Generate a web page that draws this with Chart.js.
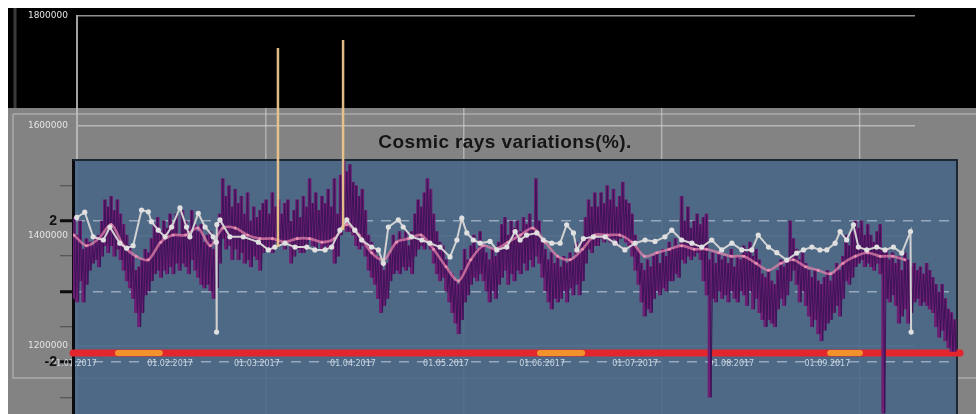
<!DOCTYPE html>
<html><head><meta charset="utf-8">
<script src="https://cdn.jsdelivr.net/npm/chart.js@4/dist/chart.umd.min.js"></script>
<style>
html,body{margin:0;padding:0;background:#fff;}
#wrap{position:relative;width:976px;height:414px;overflow:hidden;}
canvas{position:absolute;left:0;top:0;}
</style></head><body>
<div id="wrap"><canvas id="back" width="976" height="414"></canvas><canvas id="front" width="976" height="418"></canvas></div>
<script>
// ---------- DATA ----------
const TITLE = 'Cosmic rays variations(%).';
const monthDays = [0,31,59,90,120,151,181,212,243];
const monthLabels = ['01.01.2017','01.02.2017','01.03.2017','01.04.2017','01.05.2017','01.06.2017','01.07.2017','01.08.2017','01.09.2017'];
const innerTicks = [-3,-2.5,-2,-1.5,-1,-0.5,0,0.5,1,1.5,2,2.5,3,3.5];
const innerLabeled = [2,-2];
const innerMajor = [-2,0,2];
const outerTicks = [1200000,1400000,1600000,1800000];
const outerGridX = [1,2,3,4];

// daily high / low of the cosmic-ray variation band (%), day 0 = 01.01.2017
const cosmicHigh = [
2.1,1.6,2.0,1.2,1.5,1.4,1.3,1.5,1.6,2.0,
2.6,2.4,2.7,2.3,2.6,2.2,1.9,1.6,1.3,1.0,
0.6,0.7,0.9,1.2,1.1,1.5,1.9,2.1,1.7,2.0,
1.8,2.2,1.9,2.2,1.6,2.3,2.0,1.8,2.3,1.9,
1.7,1.9,1.4,1.6,1.7,1.2,1.5,2.2,3.2,2.7,
3.0,2.4,2.9,2.5,2.7,2.2,2.8,
2.0,2.4,2.1,2.3,2.5,2.6,2.2,2.8,2.4,2.6,
2.2,2.5,2.6,2.0,2.3,2.6,2.1,2.7,2.4,3.2,
2.5,2.8,2.3,2.7,2.5,2.9,2.4,3.2,2.2,3.3,
3.7,3.4,3.6,3.1,3.0,2.7,2.9,2.3,1.6,1.4,
1.2,1.0,0.8,0.6,0.8,1.1,1.6,1.4,1.7,1.5,
1.7,1.3,1.7,2.2,2.6,2.4,
2.8,3.2,2.9,2.2,1.7,1.4,1.3,0.9,0.6,0.5,
0.3,0.2,0.6,1.2,0.9,1.3,1.6,1.2,1.7,1.3,
1.1,0.9,1.2,1.0,1.4,1.9,2.1,1.6,2.0,1.8,
2.0,1.7,2.1,1.9,2.2,1.8,3.2,2.0,1.5,1.2,
0.9,1.1,0.8,1.0,0.7,1.0,0.8,1.1,0.9,1.4,
1.1,1.5,2.1,2.6,2.4,2.8,
2.4,2.8,2.5,3.0,2.6,2.9,2.4,2.7,3.1,2.6,
2.5,2.2,1.6,1.2,0.8,0.6,0.9,0.7,1.0,1.1,
0.8,1.2,1.0,1.4,1.2,1.5,1.3,2.7,2.0,2.4,
1.8,2.0,2.2,1.9,2.1,2.2,0.9,1.1,0.8,1.1,
0.9,1.0,0.8,1.2,0.7,1.0,0.9,1.3,1.1,1.4,
1.0,1.2,0.9,0.5,0.4,0.6,0.3,
0.2,0.6,0.9,0.7,0.9,2.0,1.5,1.2,0.9,1.1,
0.8,0.6,0.4,0.6,0.3,0.2,0.4,0.6,0.3,0.5,
0.8,0.6,1.0,1.6,1.3,1.7,2.0,1.8,2.0,1.6,
1.9,1.6,1.4,1.7,1.9,1.2,1.2,0.9,1.1,0.8,
1.0,0.6,1.1,0.9,0.7,0.8,0.6,0.7,0.5,0.8,
0.6,0.4,0.2,0.0,0.2,-0.2,-0.5,-0.6,-0.8];
const cosmicLow = [
-0.2,-0.3,0.3,-0.3,0.2,0.6,0.8,0.9,0.7,1.0,
1.3,1.1,1.3,1.0,1.2,0.9,0.6,0.3,0.1,-0.2,
-0.6,-1.0,-0.6,-0.1,0.0,0.3,0.5,0.6,0.4,0.6,
0.5,0.7,0.5,0.8,0.6,0.8,0.7,0.5,0.9,0.6,
0.4,0.2,0.1,0.2,0.0,-0.2,0.1,0.8,1.5,1.2,
1.3,0.9,1.2,0.9,1.1,0.8,0.9,
0.7,1.0,0.9,0.6,1.1,1.2,1.2,1.1,1.4,1.3,
1.4,1.2,1.4,0.8,1.0,1.2,1.1,1.1,1.2,1.5,
1.3,1.2,1.4,1.2,1.3,1.2,1.3,0.8,1.0,1.6,
1.8,1.7,1.7,1.6,1.3,1.2,1.3,1.0,0.6,0.4,
0.2,-0.2,-0.6,-0.4,-0.2,0.3,0.5,0.6,0.5,0.7,
0.6,0.7,0.5,1.0,1.2,1.3,
1.2,1.4,1.2,0.8,0.5,0.3,0.4,0.0,-0.3,-0.6,
-0.9,-1.2,-0.8,-0.3,-0.1,0.2,0.4,0.3,0.5,0.3,
0.0,-0.3,0.0,-0.2,0.2,0.4,0.6,0.2,0.5,0.3,
0.6,0.5,0.8,0.6,0.9,0.7,1.0,0.8,0.4,0.0,
-0.3,-0.5,-0.2,-0.3,-0.2,0.0,-0.3,0.1,-0.1,0.2,
-0.1,0.3,0.8,1.2,1.1,1.3,
1.3,1.5,1.4,1.6,1.4,1.5,1.3,1.5,1.6,1.4,
1.3,1.0,0.6,0.2,-0.3,-0.7,-0.5,-0.6,-0.2,0.0,
-0.1,0.1,0.0,0.3,0.3,0.5,0.4,0.9,0.8,1.0,
0.9,1.0,1.1,0.9,0.3,-0.1,-3.0,-0.2,-0.3,0.0,
-0.2,-0.1,-0.3,0.0,-0.2,-0.3,0.0,-0.1,-0.4,0.0,
-0.5,-0.2,-0.6,-0.8,-1.0,-0.8,-0.9,
-1.0,-0.5,-0.2,-0.4,-0.1,0.3,0.6,0.2,-0.3,0.0,
-0.4,-0.7,-1.0,-0.8,-1.2,-1.4,-1.1,-0.9,-0.8,-0.6,
-0.4,-0.7,-0.2,0.3,0.2,0.4,0.7,0.8,0.9,0.7,
0.8,0.7,0.6,0.8,0.5,-3.45,-0.2,-0.3,-0.1,-0.4,
-0.9,-0.7,-0.5,-0.9,-0.6,-0.3,-0.2,-0.4,-0.3,-0.4,
-0.5,-0.6,-1.0,-1.3,-1.1,-1.4,-1.6,-1.7,-1.7];

// smoothed (pink) curve
const smoothDays = [0,4,8,12,16,20,24,28,32,36,40,44,48,52,56,60,64,68,72,76,80,84,88,92,96,100,104,108,112,116,120,124,128,132,136,140,144,148,152,156,160,164,168,172,176,180,184,188,192,196,200,204,208,212,216,220,224,228,232,236,240,244,248,252,256,260,264,268];
const smoothVals = [1.6,1.3,1.5,1.9,1.3,1.0,0.9,1.4,1.6,1.6,1.8,1.3,1.8,1.8,1.6,1.5,1.5,1.4,1.5,1.5,1.4,1.5,1.9,1.6,1.1,0.9,1.4,1.5,1.6,1.2,0.7,0.3,0.9,1.3,1.2,1.4,1.6,1.8,1.4,1.0,0.9,1.2,1.6,1.6,1.6,1.4,1.0,1.1,1.2,1.3,1.2,1.2,1.1,1.0,1.0,0.8,0.6,0.8,0.9,0.7,0.6,0.5,0.8,1.0,1.1,1.0,1.0,0.9];

// light-grey series with markers
const greyDays = [0.9,3.5,6.2,9.5,11.6,14.8,17,19.1,21.8,24,25,27.2,29.4,31.5,34.2,36.3,37.4,40.1,42.3,44.9,45.9,46.0,46.1,47.1,50.3,54.6,59.5,62.7,64.8,68.1,71.3,75.1,77.7,81,83.1,85.8,88,90.6,92.8,96,98.2,99.8,101.4,104.6,106.2,108.9,112.2,114.8,118.1,121.3,123.5,125.1,126.7,128.8,131,134.2,136.4,139.6,142.3,143.9,146,149.3,151.4,154.1,156.8,158.9,161.1,162.2,164.3,167.5,171.3,174.5,177.7,181,184.2,187.4,190.6,192.8,196,199.3,202.5,205.7,208.9,212.2,215.4,218.6,220.7,224,226.7,229.9,233.1,235.3,238,240.6,242.8,245.5,247.1,249.2,251.4,253,255.7,258.9,261.6,264.3,267,269.8,270.0];
const greyVals = [2.1,2.25,1.55,1.46,1.83,1.37,1.23,1.3,2.31,2.26,1.98,1.74,1.55,1.83,2.37,1.83,1.55,2.22,1.83,1.55,1.4,-1.15,1.9,2.03,1.55,1.55,1.4,1.18,1.26,1.37,1.26,1.26,1.18,1.18,1.26,1.74,2.03,1.74,1.46,1.26,1.18,0.8,1.83,2.03,1.83,1.55,1.46,1.37,1.26,0.98,1.46,2.08,1.66,1.46,1.37,1.42,1.18,1.26,1.7,1.46,1.6,1.66,1.46,1.37,1.37,1.89,1.66,1.18,1.5,1.55,1.55,1.37,1.18,1.37,1.46,1.42,1.55,1.74,1.46,1.37,1.26,1.46,1.18,1.37,1.18,1.18,1.6,1.26,1.1,0.89,1.09,1.18,1.26,1.18,1.18,1.37,1.7,1.46,1.89,1.26,1.18,1.26,1.18,1.26,1.09,1.7,-1.15];

// outer (background) counter spikes
const spikeDays = [65.8, 86.8];
const spikeBase = [1380000, 1410909];
const spikeTop = [1741818, 1756364];

// time band bar
const bandLevel = -1.745;
const bandStart = -0.3, bandEnd = 285.8;
const markStart = [14.2, 150.3, 243.9];
const markEnd = [27.7, 163.9, 253.5];

// ---------- BUILD ----------
const zig = [];
cosmicHigh.forEach((h, d) => { zig.push({x: d, y: h}); zig.push({x: d + 0.5, y: cosmicLow[d]}); });
const ranges = cosmicHigh.map((h, d) => ({x: d, y: [cosmicLow[d], h]}));
const smoothPts = smoothDays.map((d, i) => ({x: d, y: smoothVals[i]}));
const greyPts = greyDays.map((d, i) => ({x: d, y: greyVals[i]}));
const spikePts = [];
const spikeRadius = [];
spikeDays.forEach((d, i) => {
  spikePts.push({x: d, y: spikeBase[i]}, {x: d, y: spikeTop[i]}, {x: d + 1, y: null});
  spikeRadius.push(0, 3, 0);
});
const markPts = [];
markStart.forEach((s, i) => { markPts.push({x: s, y: bandLevel}, {x: markEnd[i], y: bandLevel}, {x: markEnd[i] + 1, y: null}); });

const noPad = s => { s.paddingTop = 0; s.paddingBottom = 0; };

const backdrop = {
  id: 'backdrop',
  beforeDraw(chart) {
    const c = chart.ctx;
    c.save();
    c.fillStyle = '#ffffff'; c.fillRect(0, 0, 976, 414);
    c.fillStyle = '#000000'; c.fillRect(8, 8, 968, 100);
    c.fillStyle = '#838383'; c.fillRect(8, 108, 968, 306);
    c.strokeStyle = '#3a3a3a'; c.lineWidth = 3;
    c.beginPath(); c.moveTo(15, 8); c.lineTo(15, 108); c.stroke();
    c.strokeStyle = 'rgba(175,175,175,0.9)'; c.lineWidth = 1.5;
    c.beginPath(); c.moveTo(13, 114); c.lineTo(976, 114); c.moveTo(13, 114); c.lineTo(13, 378); c.lineTo(976, 378); c.stroke();
    c.restore();
  },
  beforeDatasetsDraw(chart) {
    const c = chart.ctx, s = chart.scales.x;
    c.save();
    c.strokeStyle = 'rgba(215,215,215,0.55)'; c.lineWidth = 1.5;
    outerGridX.forEach(v => { const px = s.getPixelForValue(v); c.beginPath(); c.moveTo(px, 108); c.lineTo(px, 414); c.stroke(); });
    c.restore();
  }
};

new Chart(document.getElementById('back'), {
  type: 'line',
  data: {datasets: []},
  options: {
    responsive: false, animation: false,
    layout: {padding: {top: 16, right: 61, bottom: 0, left: 0}},
    plugins: {legend: {display: false}, tooltip: {enabled: false}},
    scales: {
      x: {type: 'linear', min: 0.046, max: 4.28,
          afterFit: s => { s.height = 0; s.paddingLeft = 0; s.paddingRight = 0; },
          ticks: {display: false}, grid: {display: false, drawTicks: false}, border: {display: false}},
      y: {type: 'linear', min: 1076364, max: 1800000,
          afterBuildTicks: s => { s.ticks = outerTicks.map(v => ({value: v})); },
          afterFit: s => { s.width = 77; noPad(s); },
          ticks: {color: '#e4e4e4', font: {family: 'DejaVu Sans', size: 9}, padding: 9, callback: v => String(v)},
          grid: {color: 'rgba(205,205,205,0.7)', lineWidth: 1.5, drawTicks: false},
          border: {color: 'rgba(190,190,190,0.85)', width: 2}}
    }
  },
  plugins: [backdrop]
});

const panel = {
  id: 'panel',
  beforeDraw(chart) {
    const c = chart.ctx, a = chart.chartArea;
    c.save();
    c.fillStyle = 'rgba(70,101,134,0.87)';
    c.fillRect(a.left, a.top, a.right - a.left, a.bottom - a.top);
    c.restore();
  },
  beforeDatasetsDraw(chart) {
    const c = chart.ctx, a = chart.chartArea;
    c.save();
    c.strokeStyle = '#1d2733'; c.lineWidth = 2;
    c.beginPath(); c.moveTo(a.left, a.top); c.lineTo(a.right, a.top); c.lineTo(a.right, a.bottom); c.stroke();
    c.font = 'bold 19px "Liberation Sans", Arial, sans-serif';
    if ('letterSpacing' in c) c.letterSpacing = '0.4px';
    c.fillStyle = '#151515'; c.textAlign = 'center'; c.textBaseline = 'middle';
    c.fillText(TITLE, 505, 143);
    c.restore();
  }
};

new Chart(document.getElementById('front'), {
  type: 'line',
  data: {datasets: [
    {label: 'spikes', yAxisID: 'yOut', data: spikePts, borderColor: 'rgba(236,196,140,0.95)', borderWidth: 2.5,
     pointRadius: spikeRadius, pointBackgroundColor: '#f0c890', pointBorderWidth: 0, spanGaps: false, clip: false, order: 0},
    {label: 'grey', data: greyPts, borderColor: '#d2d2d2', borderWidth: 2, pointRadius: 2.6,
     pointBackgroundColor: '#e0e0e0', pointBorderWidth: 0, tension: 0, order: 1},
    {label: 'smooth', data: smoothPts, borderColor: 'rgba(230,132,172,0.72)', borderWidth: 2.6, pointRadius: 1.5,
     pointBackgroundColor: 'rgba(240,150,185,0.85)', pointBorderWidth: 0, tension: 0.3, order: 2},
    {label: 'cosmic', data: zig, borderColor: '#3a1456', borderWidth: 1, pointRadius: 0, tension: 0, order: 3},
    {label: 'cosmicRange', type: 'bar', data: ranges, backgroundColor: '#6e1f74', borderWidth: 0,
     barPercentage: 1, categoryPercentage: 1, grouped: false, order: 4},
    {label: 'marks', data: markPts, borderColor: '#f2922c', borderWidth: 6, borderCapStyle: 'round', pointRadius: 0,
     spanGaps: false, clip: false, order: 5},
    {label: 'band', data: [{x: bandStart, y: bandLevel}, {x: bandEnd, y: bandLevel}], borderColor: '#e3262d', borderWidth: 7,
     borderCapStyle: 'round', pointRadius: 0, clip: false, order: 6}
  ]},
  options: {
    responsive: false, animation: false,
    layout: {padding: {top: 160, right: 19, bottom: 0, left: 0}},
    plugins: {legend: {display: false}, tooltip: {enabled: false}},
    scales: {
      x: {type: 'linear', min: -0.3, max: 284.8, position: {y: -1.86}, offset: false,
          afterBuildTicks: s => { s.ticks = monthDays.map(v => ({value: v})); },
          afterFit: s => { s.height = 0; s.paddingLeft = 0; s.paddingRight = 0; },
          ticks: {autoSkip: false, maxRotation: 0, color: 'rgba(214,224,234,0.9)', font: {family: 'DejaVu Sans', size: 8}, padding: 2,
                  callback: (v, i) => monthLabels[i]},
          grid: {display: false, drawTicks: false, offset: false}, border: {display: false}},
      y: {type: 'linear', position: 'left', min: -3.475, max: 3.73,
          afterBuildTicks: s => { s.ticks = innerTicks.map(v => ({value: v})); },
          afterFit: s => { s.width = 73; noPad(s); },
          ticks: {color: '#111', font: {family: 'Liberation Sans', size: 14, weight: 'bold'}, padding: 3,
                  callback: v => innerLabeled.includes(v) ? String(v) : ''},
          grid: {color: ctx => innerMajor.includes(ctx.tick && ctx.tick.value) ? 'rgba(200,212,225,0.6)' : 'rgba(0,0,0,0)',
                 lineWidth: 1.5, tickLength: 13,
                 tickColor: ctx => innerMajor.includes(ctx.tick && ctx.tick.value) ? '#0d0d0d' : '#4a4a4a',
                 tickWidth: ctx => innerMajor.includes(ctx.tick && ctx.tick.value) ? 3 : 1},
          border: {color: '#0c0c10', width: 3, dash: [10, 8]}},
      yOut: {type: 'linear', display: false, min: 1076364, max: 1538182}
    }
  },
  plugins: [panel]
});
</script>
</body></html>
